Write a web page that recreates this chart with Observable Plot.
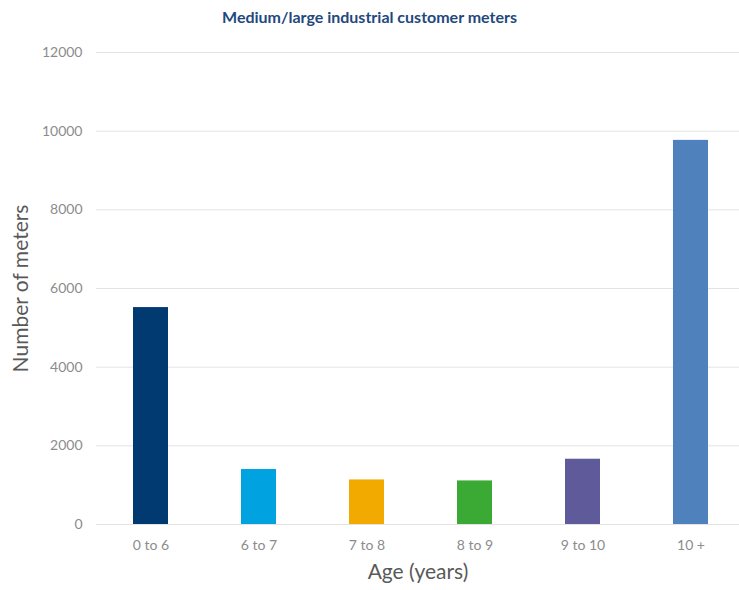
<!DOCTYPE html>
<html>
<head>
<meta charset="utf-8">
<script src="https://cdn.jsdelivr.net/npm/d3@7"></script>
<script src="https://cdn.jsdelivr.net/npm/@observablehq/plot@0.6"></script>
<style>
  html, body { margin: 0; padding: 0; background: #fff; overflow: hidden; }
  #title { height: 34px; line-height: 34px; text-align: center; font-family: Lato, "Open Sans", sans-serif; font-weight: bold; font-size: 16px; color: #1f497d; }
  #chart svg { display: block; }
</style>
</head>
<body>
<div id="title">Medium/large industrial customer meters</div>
<div id="chart"></div>
<script>
const categories = ["0 to 6", "6 to 7", "7 to 8", "8 to 9", "9 to 10", "10 +"];
const meters = [5515, 1398, 1133, 1108, 1660, 9766];
const barColors = ["#003a70", "#00a3e0", "#f2a900", "#3aaa35", "#5f5b9b", "#4f81bd"];
const yTicks = [0, 2000, 4000, 6000, 8000, 10000, 12000];

const data = categories.map((c, i) => ({category: c, value: meters[i], color: barColors[i]}));

const chart = Plot.plot({
  width: 739,
  height: 556,
  marginTop: 18,
  marginBottom: 66,
  marginLeft: 96,
  marginRight: 0,
  style: {fontFamily: "Lato, 'Open Sans', sans-serif", fontSize: "14px", color: "#8c8c8c", background: "#fff"},
  x: {domain: categories, range: [96, 745], paddingInner: 0.675, paddingOuter: 0.3375, label: null},
  y: {domain: [0, 12000], ticks: yTicks, label: null},
  marks: [
    Plot.gridY(yTicks, {stroke: "#e3e3e3", strokeOpacity: 1, strokeWidth: 1}),
    Plot.barY(data, {x: "category", y: "value", fill: "color"}),
    Plot.axisY(yTicks, {tickSize: 0, tickPadding: 14, label: null, fill: "#8c8c8c", fontSize: 14, tickFormat: d => String(d)}),
    Plot.axisX({tickSize: 0, tickPadding: 16, label: null, fill: "#8c8c8c", fontSize: 14}),
    Plot.text(["Number of meters"], {frameAnchor: "left", textAnchor: "middle", dx: -75, rotate: -90, fontSize: 21, fill: "#595959"}),
    Plot.text(["Age (years)"], {frameAnchor: "bottom", dy: 54, fontSize: 21, fill: "#595959"})
  ]
});
document.getElementById("chart").appendChild(chart);
</script>
</body>
</html>
